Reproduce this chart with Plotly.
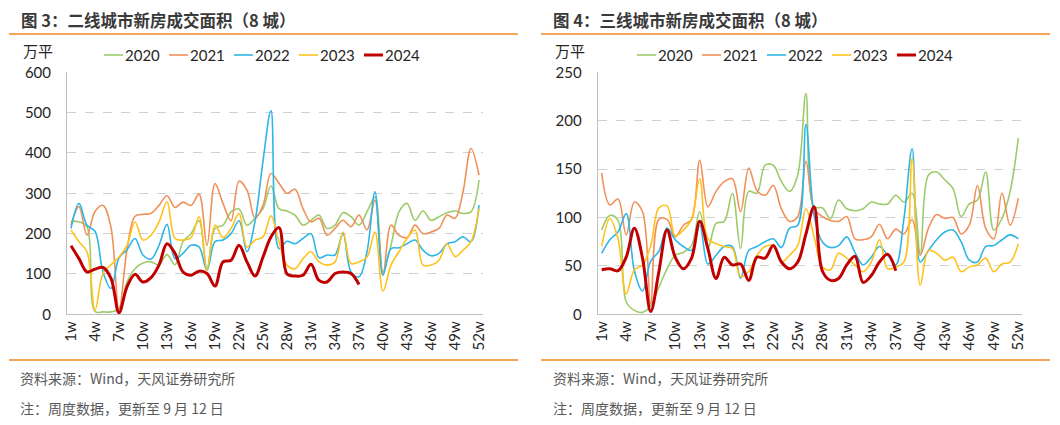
import plotly.graph_objects as go

weeks = list(range(1, 53))
tick_weeks = list(range(1, 53, 3))
tick_text = [f"{w}w" for w in tick_weeks]
years = ["2020", "2021", "2022", "2023", "2024"]

# 二线城市（8城）
t2_2020 = [231,229,217,7,6,6,14,80,113,127,130,123,148,123,180,200,232,112,213,221,254,261,221,238,262,318,
           262,256,246,221,233,246,213,221,252,242,221,254,291,105,171,254,275,233,256,233,242,252,256,250,254,333]
t2_2021 = [221,267,196,255,270,215,10,160,243,248,250,270,294,265,278,270,298,171,324,275,232,330,308,238,270,349,
           325,300,310,262,229,238,196,213,233,217,246,209,283,97,221,196,190,221,200,204,213,246,238,304,411,345]
t2_2022 = [213,275,221,206,105,64,140,160,188,147,137,171,223,138,151,171,167,109,180,184,200,232,155,230,380,505,
           163,181,175,188,200,140,147,147,200,105,93,155,304,97,163,165,175,184,159,145,151,175,180,192,180,271]
t2_2023 = [209,180,155,10,101,123,142,171,229,184,196,229,279,188,184,190,242,109,221,190,213,250,167,184,192,244,
           180,122,113,138,155,130,122,130,204,126,130,142,204,57,122,155,188,209,122,122,134,175,143,159,180,262]
t2_2024 = [170,138,105,112,116,89,4,68,99,80,91,122,175,151,105,97,107,101,70,130,134,171,130,95,142,192,
           215,100,95,97,124,84,80,101,105,101,74]

# 三线城市（8城）
t3_2020 = [87,102,97,13,4,2,9,28,47,61,64,71,106,68,94,96,125,68,127,125,154,154,137,127,144,228,
           111,110,99,118,109,107,109,116,114,114,123,116,125,62,144,147,139,130,101,114,118,147,87,99,127,182]
t3_2021 = [146,113,119,82,116,106,11,98,98,80,92,98,159,111,127,137,140,106,151,128,123,133,109,96,101,158,
           109,101,97,96,101,78,77,80,93,78,88,83,98,61,89,103,99,100,83,92,133,89,78,125,92,120]
t3_2022 = [63,77,85,104,45,24,55,65,89,77,70,66,92,52,61,70,70,37,66,70,75,78,69,89,92,196,
           102,75,69,71,80,64,51,59,70,61,51,99,171,54,66,77,85,87,75,56,54,70,71,77,82,78]
t3_2023 = [70,99,78,21,46,51,71,110,112,81,87,98,140,78,73,70,68,39,44,61,70,71,54,61,71,109,
           80,49,46,63,58,51,44,54,77,47,49,54,161,30,66,63,56,59,44,49,51,58,44,52,54,73]
t3_2024 = [46,47,45,59,89,58,3,44,87,59,47,58,96,68,37,59,51,52,35,59,58,71,54,47,54,83,
           111,45,35,37,51,60,33,40,54,62,45]

colors = ["#9DCB6B", "#F0915A", "#2EB6E8", "#FFC21C", "#C00000"]
widths = [1.6, 1.6, 1.6, 1.6, 3.0]

# page body has an 8px margin; figure fills the rest of the 1060x425 window
OFF = 8
W, H = 1060 - OFF, 425 - OFF
def px(x):
    return (x - OFF) / W
def py(y):
    return 1 - (y - OFF) / H

FONT = "Lato, 'Noto Sans CJK SC', sans-serif"
CJK = "'Noto Sans CJK SC', sans-serif"

fig = go.Figure()
left = [t2_2020, t2_2021, t2_2022, t2_2023, t2_2024]
right = [t3_2020, t3_2021, t3_2022, t3_2023, t3_2024]
for i, (yr, vals) in enumerate(zip(years, left)):
    fig.add_trace(go.Scatter(x=weeks[:len(vals)], y=vals, name=yr, mode="lines",
                             line=dict(color=colors[i], width=widths[i], shape="spline", smoothing=1.0),
                             xaxis="x", yaxis="y", showlegend=False))
for i, (yr, vals) in enumerate(zip(years, right)):
    fig.add_trace(go.Scatter(x=weeks[:len(vals)], y=vals, name=yr, mode="lines",
                             line=dict(color=colors[i], width=widths[i], shape="spline", smoothing=1.0),
                             xaxis="x2", yaxis="y2", showlegend=False))

ydom = [py(314.3), py(72.3)]
xcommon = dict(range=[0.5, 52.5], tickmode="array", tickvals=tick_weeks, ticktext=tick_text,
               tickangle=-90, showgrid=False, zeroline=False, showline=True, linecolor="#BFBFBF",
               linewidth=1, ticks="", tickfont=dict(family=FONT, size=15, color="#262626"),
               automargin=False, fixedrange=True)
ycommon = dict(showgrid=True, gridcolor="#D0D0D0", griddash="dash", gridwidth=1, zeroline=False,
               showline=True, linecolor="#BFBFBF", linewidth=1, ticks="",
               tickfont=dict(family=FONT, size=15, color="#262626"), automargin=False,
               ticklabelstandoff=12)

fig.update_layout(
    width=W, height=H, margin=dict(l=0, r=0, t=0, b=0),
    paper_bgcolor="white", plot_bgcolor="white",
    xaxis=dict(domain=[px(67), px(483)], anchor="y", **xcommon),
    yaxis=dict(domain=ydom, anchor="x", range=[0, 600], tickvals=[0,100,200,300,400,500,600], **ycommon),
    xaxis2=dict(domain=[px(597.6), px(1022.4)], anchor="y2", **xcommon),
    yaxis2=dict(domain=ydom, anchor="x2", range=[0, 250], tickvals=[0,50,100,150,200,250], **ycommon),
    showlegend=False,
)

orange = "#F08A24"
shapes = []
for x0, x1 in [(9, 518), (541, 1050)]:
    shapes.append(dict(type="line", xref="paper", yref="paper", x0=px(x0), x1=px(x1),
                       y0=py(34), y1=py(34), line=dict(color=orange, width=1.5)))
    shapes.append(dict(type="line", xref="paper", yref="paper", x0=px(x0), x1=px(x1),
                       y0=py(360), y1=py(360), line=dict(color=orange, width=1.5)))

ann = []
def text(x, y, s, size=15, color="#404040", bold=False, family=CJK, xanchor="left"):
    if bold:
        s = f"<b>{s}</b>"
    ann.append(dict(x=px(x), y=py(y), xref="paper", yref="paper", text=s, showarrow=False,
                    xanchor=xanchor, yanchor="middle", borderpad=0,
                    font=dict(family=family, size=size, color=color),
                    xshift=-2 if xanchor == "left" else 0))

# legends (one per panel)
for lx in [104, 637]:
    for i, yr in enumerate(years):
        x0 = lx + i * 65
        shapes.append(dict(type="line", xref="paper", yref="paper", x0=px(x0), x1=px(x0 + 19),
                           y0=py(55), y1=py(55), line=dict(color=colors[i], width=widths[i])))
        text(x0 + 22, 55, yr, size=15, color="#262626", family=FONT)

fig.update_layout(shapes=shapes)

text(22, 20, "图 3：二线城市新房成交面积（8 城）", size=16.5, color="#3A3A3A", bold=True)
text(554, 20, "图 4：三线城市新房成交面积（8 城）", size=16.5, color="#3A3A3A", bold=True)
text(38, 50, "万平", size=15, color="#262626", xanchor="center")
text(570, 50, "万平", size=15, color="#262626", xanchor="center")
text(21, 378, "资料来源：Wind，天风证券研究所", size=14, color="#595959")
text(554, 378, "资料来源：Wind，天风证券研究所", size=14, color="#595959")
text(21, 408, "注：周度数据，更新至 9 月 12 日", size=14, color="#595959")
text(554, 408, "注：周度数据，更新至 9 月 12 日", size=14, color="#595959")
fig.update_layout(annotations=ann)

fig.write_html("out.html")
